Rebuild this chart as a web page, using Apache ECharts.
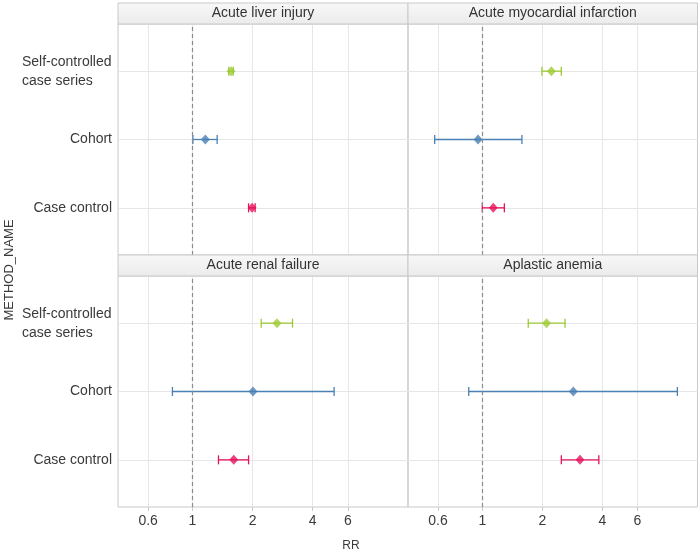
<!DOCTYPE html>
<html>
<head>
<meta charset="utf-8">
<script src="https://cdn.jsdelivr.net/npm/echarts@6/dist/echarts.min.js"></script>
<style>html,body{margin:0;padding:0;background:#fff;}#c{width:700px;height:552px;}</style>
</head>
<body>
<div id="c"></div>
<script>
// ---- data ----
const outcomes = ['Acute liver injury', 'Acute myocardial infarction', 'Acute renal failure', 'Aplastic anemia'];
const methods = ['Case control', 'Cohort', 'Self-controlled case series'];
const methodLabels = ['Case control', 'Cohort', 'Self-controlled\ncase series'];
const xTicks = [0.6, 1, 2, 4, 6];

const caseControlRR = [1.99, 1.135, 1.61, 3.09];
const caseControlLo = [1.91, 1.00, 1.35, 2.49];
const caseControlHi = [2.06, 1.29, 1.91, 3.84];

const cohortRR = [1.16, 0.952, 2.01, 2.86];
const cohortLo = [1.005, 0.577, 0.794, 0.855];
const cohortHi = [1.33, 1.58, 5.12, 9.51];

const sccsRR = [1.56, 2.22, 2.65, 2.10];
const sccsLo = [1.52, 1.99, 2.21, 1.70];
const sccsHi = [1.60, 2.49, 3.17, 2.60];

const methodColors = ['#e6125c', '#4a80b4', '#9dcb35'];
const seriesData = [
  {rr: caseControlRR, lo: caseControlLo, hi: caseControlHi},
  {rr: cohortRR, lo: cohortLo, hi: cohortHi},
  {rr: sccsRR, lo: sccsLo, hi: sccsHi}
];

// ---- layout ----
const FONT = '"Liberation Sans", Arial, sans-serif';
const TXT = '#3a3a3a';
const panelLeft = [118, 408];
const panelWidth = [290, 289.5];
const panelTop = [24, 276];
const panelHeight = 231;
const stripH = 21;

const grids = [], xAxes = [], yAxes = [], series = [], graphics = [];

function yLabel(v) {
  const s = methodLabels[Math.round(v) - 1];
  if (s.indexOf('\n') < 0) return s;
  return s.split('\n').map(t => '{l|' + t + '}').join('\n');
}

outcomes.forEach((name, i) => {
  const col = i % 2, row = Math.floor(i / 2);
  const left = panelLeft[col], top = panelTop[row], w = panelWidth[col];
  grids.push({left: left, top: top, width: w, height: panelHeight, show: true,
    borderColor: '#c9c9c9', borderWidth: 1, backgroundColor: 'transparent', containLabel: false});
  xAxes.push({
    type: 'log', gridIndex: i, min: 0.424, max: 12, logBase: 10,
    axisLine: {show: false},
    axisTick: {show: row === 1, customValues: xTicks, length: 4, lineStyle: {color: '#c9c9c9'}},
    axisLabel: {show: row === 1, customValues: xTicks, fontSize: 14, color: TXT, fontFamily: FONT, margin: 7,
      formatter: v => String(+(+v).toPrecision(3))},
    splitLine: {show: true, lineStyle: {color: '#e6e6e6', width: 1}}
  });
  yAxes.push({
    type: 'value', gridIndex: i, min: 0.31, max: 3.69,
    axisLine: {show: false},
    axisTick: {show: false, customValues: [1, 2, 3]},
    axisLabel: {show: col === 0, customValues: [1, 2, 3], fontSize: 14, color: TXT, fontFamily: FONT, margin: 6,
      lineHeight: 19, align: 'right',
      rich: {l: {width: 90, align: 'left', fontSize: 14, lineHeight: 19, color: TXT, fontFamily: FONT}},
      formatter: yLabel},
    splitLine: {show: true, lineStyle: {color: '#e6e6e6', width: 1}}
  });
  // strip
  graphics.push({
    type: 'rect', shape: {x: left, y: top - stripH, width: w, height: stripH},
    style: {fill: new echarts.graphic.LinearGradient(0, 0, 0, 1, [{offset: 0, color: '#f8f8f8'}, {offset: 1, color: '#ebebeb'}]),
      stroke: '#c9c9c9', lineWidth: 1}, z: 10
  });
  graphics.push({
    type: 'text', x: left + w / 2, y: top - stripH / 2, z: 11,
    style: {text: name, fontSize: 14, fontFamily: FONT, fill: '#333', align: 'center', verticalAlign: 'middle'}
  });

  methods.forEach((m, k) => {
    const d = seriesData[k];
    const color = methodColors[k];
    series.push({
      type: 'custom', xAxisIndex: i, yAxisIndex: i, name: m,
      data: [[d.lo[i], d.hi[i], k + 1]],
      encode: {x: [0, 1], y: 2},
      renderItem: (params, api) => {
        const y = api.value(2);
        const p1 = api.coord([api.value(0), y]);
        const p2 = api.coord([api.value(1), y]);
        const h = 4.5;
        const st = {stroke: color, lineWidth: 1.3};
        return {type: 'group', children: [
          {type: 'line', shape: {x1: p1[0], y1: p1[1], x2: p2[0], y2: p2[1]}, style: st},
          {type: 'line', shape: {x1: p1[0], y1: p1[1] - h, x2: p1[0], y2: p1[1] + h}, style: st},
          {type: 'line', shape: {x1: p2[0], y1: p2[1] - h, x2: p2[0], y2: p2[1] + h}, style: st}
        ]};
      },
      z: 3,
      markLine: k === 0 ? {
        silent: true, symbol: 'none', label: {show: false},
        lineStyle: {color: '#8c8c8c', type: [4, 3], width: 1.2},
        data: [{xAxis: 1}]
      } : undefined
    });
    series.push({
      type: 'scatter', xAxisIndex: i, yAxisIndex: i, name: m + ' RR',
      symbol: 'diamond', symbolSize: [9, 10],
      itemStyle: {color: color},
      data: [[d.rr[i], k + 1]], z: 4
    });
  });
});

graphics.push({type: 'text', x: 351, y: 546, style: {text: 'RR', fontSize: 12, fontFamily: FONT, fill: TXT, align: 'center', verticalAlign: 'middle'}});
graphics.push({type: 'text', x: 9, y: 270, rotation: Math.PI / 2,
  style: {text: 'METHOD_NAME', fontSize: 13, fontFamily: FONT, fill: TXT, align: 'center', verticalAlign: 'middle'}});

const chart = echarts.init(document.getElementById('c'), null, {renderer: 'canvas'});
chart.setOption({
  animation: false,
  backgroundColor: '#fff',
  grid: grids, xAxis: xAxes, yAxis: yAxes, series: series, graphic: graphics
});
</script>
</body>
</html>
